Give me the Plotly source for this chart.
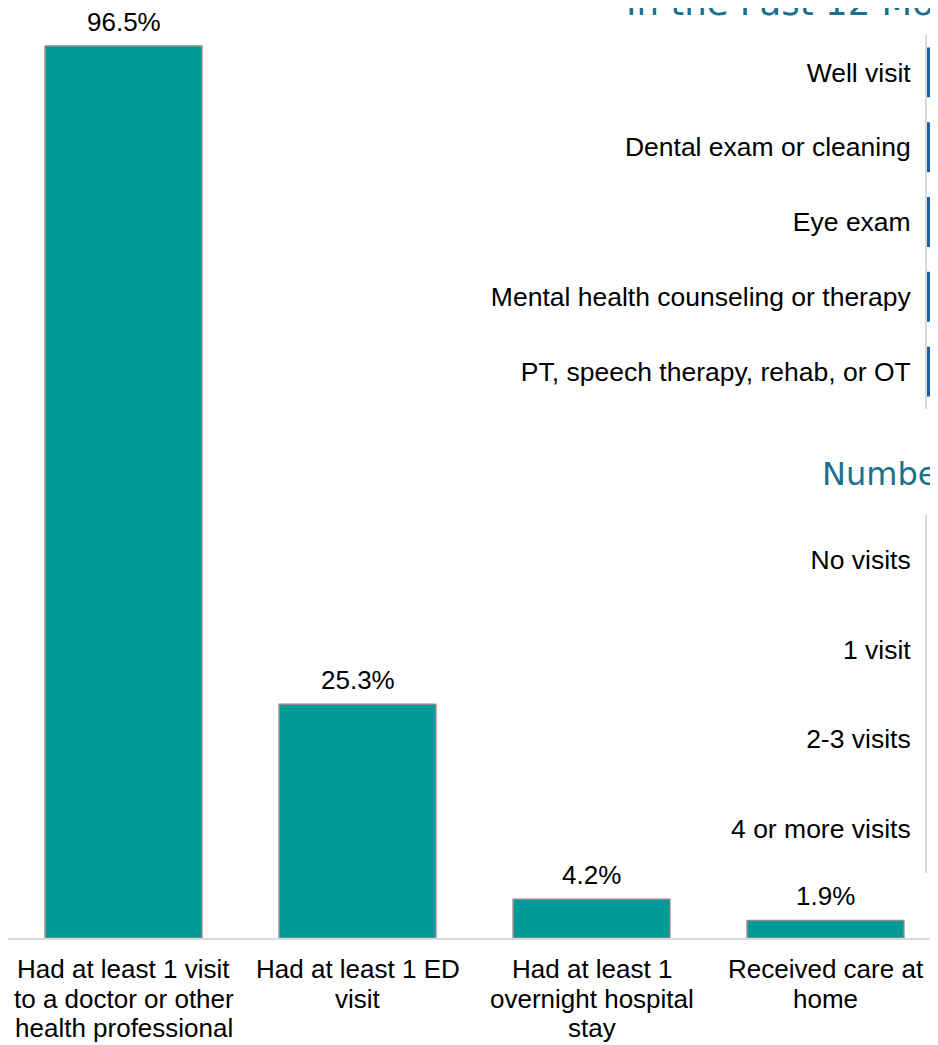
import plotly.graph_objects as go

# Main chart data
categories = [
    "Had at least 1 visit<br>to a doctor or other<br>health professional",
    "Had at least 1 ED<br>visit",
    "Had at least 1<br>overnight hospital<br>stay",
    "Received care at<br>home",
]
values = [96.5, 25.3, 4.2, 1.9]
value_labels = ["96.5%", "25.3%", "4.2%", "1.9%"]

# Partially visible panel: services in the past 12 months (bars cut off at the right edge)
service_cats = ["Well visit", "Dental exam or cleaning", "Eye exam",
                "Mental health counseling or therapy", "PT, speech therapy, rehab, or OT"]
service_vals = [88.0, 80.0, 40.0, 15.0, 6.0]  # not readable (cut off); only bar starts visible

# Partially visible panel: number of visits (no bars visible)
visit_cats = ["No visits", "1 visit", "2-3 visits", "4 or more visits"]

title1 = "In the Past 12 Months"
title2 = "Number of Visits"

TEAL = "#009B96"
BLUE = "#1F5FA6"
TITLE_COL = "#18728C"
AXIS_GREY = "#D9D9D9"
FONT = "Liberation Sans, Arial, sans-serif"

OFF = 8  # page body margin
W, H = 938 - OFF, 1045 - OFF
ML, MR, MT, MB = 0, 0, 0, 107
PW = W - ML - MR
PH = H - MT - MB

def px_x(page_px):
    return (page_px - OFF - ML) / PW

def px_y(page_py):
    return 1 - (page_py - OFF - MT) / PH

UNIT = 9.2435  # px per percentage point
CAT = 234.0    # px per category
first_center = 123.5 - OFF - ML
x_lo = -first_center / CAT
x_hi = (PW - first_center) / CAT

fig = go.Figure()

fig.add_trace(go.Bar(
    x=list(range(len(categories))), y=values,
    width=0.67,
    marker=dict(color=TEAL, line=dict(color="#8C8C8C", width=1.5)),
    hoverinfo="skip", showlegend=False,
    xaxis="x", yaxis="y",
))

fig.add_trace(go.Bar(
    x=service_vals, y=service_cats, orientation="h",
    width=0.667,
    marker=dict(color=BLUE, line=dict(width=0)),
    hoverinfo="skip", showlegend=False,
    xaxis="x2", yaxis="y2",
))

fig.add_trace(go.Bar(
    x=[None] * len(visit_cats), y=visit_cats, orientation="h",
    marker=dict(color=BLUE),
    hoverinfo="skip", showlegend=False,
    xaxis="x3", yaxis="y3",
))

annotations = []
for i, (v, lab) in enumerate(zip(values, value_labels)):
    annotations.append(dict(
        x=i, y=v, xref="x", yref="y", text=lab, showarrow=False,
        yanchor="middle", yshift=24,
        font=dict(family=FONT, size=26, color="#000000"),
    ))

for i, cat in enumerate(categories):
    for j, line in enumerate(cat.split("<br>")):
        annotations.append(dict(
            x=i, y=0, xref="x", yref="y", text=line, showarrow=False,
            yanchor="middle", yshift=-31 - 29.5 * j,
            font=dict(family=FONT, size=26, color="#000000"),
        ))

annotations.append(dict(
    x=px_x(624), y=px_y(25), xref="paper", yref="paper", text=title1,
    showarrow=False, xanchor="left", yanchor="bottom",
    font=dict(family="DejaVu Sans", size=35.5, color=TITLE_COL),
))
annotations.append(dict(
    x=px_x(820), y=px_y(495), xref="paper", yref="paper", text=title2,
    showarrow=False, xanchor="left", yanchor="bottom",
    font=dict(family="DejaVu Sans", size=32, color=TITLE_COL),
))

sub_x0 = px_x(927)

fig.update_layout(
    width=W, height=H,
    margin=dict(l=ML, r=MR, t=MT, b=MB, pad=0),
    paper_bgcolor="white", plot_bgcolor="rgba(0,0,0,0)",
    font=dict(family=FONT, size=26, color="#000000"),
    annotations=annotations,
    xaxis=dict(
        domain=[0, 1], range=[x_lo, x_hi], anchor="y",
        showline=True, linecolor=AXIS_GREY, linewidth=2,
        showgrid=False, zeroline=False, showticklabels=False, ticks="",
    ),
    yaxis=dict(
        domain=[0, 1], range=[0, PH / UNIT], anchor="x",
        showline=False, showgrid=False, zeroline=False, showticklabels=False, ticks="",
    ),
    xaxis2=dict(
        domain=[sub_x0, 1], range=[0, 1], anchor="y2",
        showline=False, showgrid=False, zeroline=False, showticklabels=False, ticks="",
    ),
    yaxis2=dict(
        domain=[px_y(409), px_y(35)], anchor="x2", type="category",
        autorange="reversed",
        showline=True, linecolor=AXIS_GREY, linewidth=2,
        showgrid=False, zeroline=False, ticks="", ticklabelstandoff=9,
        tickfont=dict(family=FONT, size=26.5, color="#000000"),
    ),
    xaxis3=dict(
        domain=[sub_x0, 1], range=[0, 1], anchor="y3",
        showline=False, showgrid=False, zeroline=False, showticklabels=False, ticks="",
    ),
    yaxis3=dict(
        domain=[px_y(873), px_y(515)], anchor="x3", type="category",
        categoryarray=visit_cats, categoryorder="array",
        autorange="reversed",
        showline=True, linecolor=AXIS_GREY, linewidth=2,
        showgrid=False, zeroline=False, ticks="", ticklabelstandoff=9,
        tickfont=dict(family=FONT, size=26.5, color="#000000"),
    ),
)

fig.write_html("out.html")
